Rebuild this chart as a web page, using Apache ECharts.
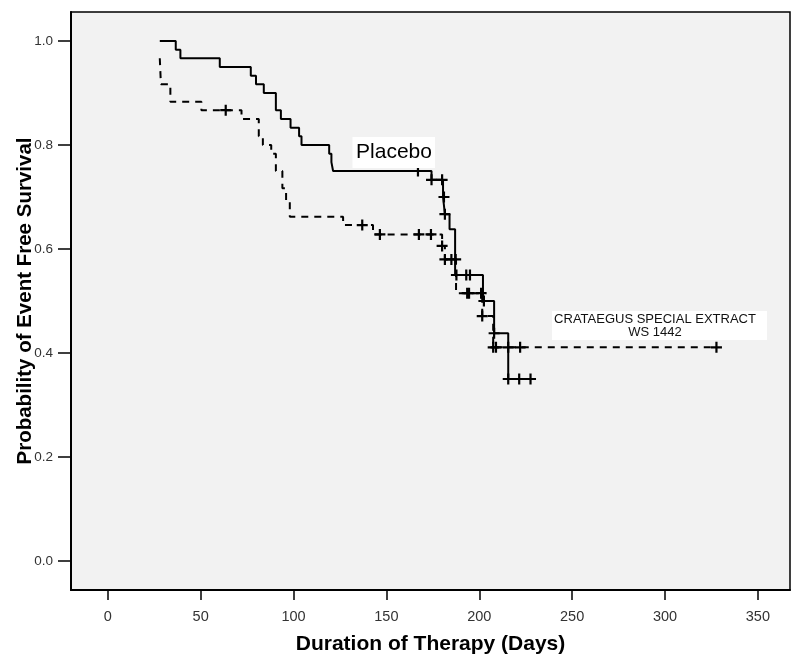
<!DOCTYPE html>
<html>
<head>
<meta charset="utf-8">
<script src="https://cdn.jsdelivr.net/npm/echarts@6/dist/echarts.min.js"></script>
<style>
html,body{margin:0;padding:0;background:#fff;}
#c{width:800px;height:665px;}
</style>
</head>
<body>
<div id="c"></div>
<script>
// Kaplan-Meier step points (time in days, survival probability)
const placeboTimes = [28, 36.6, 39.1, 60.3, 77.0, 79.8, 84, 90.5, 93.2, 98.4, 103, 104.3, 119.2, 120.4, 121.3, 174.3, 180.5, 181.5, 184, 187, 202, 208, 215.6, 227.6];
const placeboSurv  = [1.0, 0.983, 0.967, 0.950, 0.933, 0.917, 0.900, 0.867, 0.850, 0.833, 0.817, 0.800, 0.783, 0.767, 0.750, 0.733, 0.700, 0.667, 0.638, 0.550, 0.500, 0.438, 0.350, 0.350];

const crataegusTimes = [28, 28.6, 33.7, 50.4, 72, 81.3, 83.5, 88, 90.5, 94, 96, 98, 126.7, 142.8, 180, 181.5, 187.5, 201.6, 207.5, 327.7];
const crataegusSurv  = [0.967, 0.917, 0.883, 0.867, 0.850, 0.817, 0.800, 0.783, 0.750, 0.717, 0.694, 0.662, 0.646, 0.628, 0.606, 0.580, 0.515, 0.471, 0.411, 0.411];

// Censored observations
const placeboCensorTimes = [167, 174.3, 180, 181, 181.5, 187.7, 193, 195, 202.5, 208, 215.6, 221.5, 227.6];
const placeboCensorSurv  = [0.750, 0.733, 0.733, 0.700, 0.667, 0.550, 0.550, 0.550, 0.500, 0.438, 0.350, 0.350, 0.350];

const crataegusCensorTimes = [63.5, 137, 146.5, 167.5, 174, 180, 181.5, 185, 187.3, 193.5, 194.5, 201, 201.6, 207.5, 209, 215.6, 222, 327.7];
const crataegusCensorSurv  = [0.867, 0.646, 0.628, 0.628, 0.628, 0.606, 0.580, 0.580, 0.580, 0.515, 0.515, 0.515, 0.471, 0.411, 0.411, 0.411, 0.411, 0.411];

const xTicks = [0, 50, 100, 150, 200, 250, 300, 350];
const yTicks = [0, 0.2, 0.4, 0.6, 0.8, 1.0];

const zip = (a, b) => a.map((v, i) => [v, b[i]]);
const FONT = "'Liberation Sans', Arial, sans-serif";
const plus = 'path://M4,0 h2 v10 h-2 z M0,4 h10 v2 h-10 z';

const chart = echarts.init(document.getElementById('c'), null, {renderer: 'canvas'});
chart.setOption({
  animation: false,
  backgroundColor: '#ffffff',
  grid: {
    left: 71, top: 12, right: 10, bottom: 75,
    containLabel: false, outerBoundsMode: 'none',
    show: true, backgroundColor: '#f2f2f2', borderColor: '#000', borderWidth: 1.5
  },
  xAxis: {
    type: 'value', min: -19.8, max: 367.3,
    name: 'Duration of Therapy (Days)', nameLocation: 'middle', nameGap: 44, nameMoveOverlap: false,
    nameTextStyle: {fontFamily: FONT, fontSize: 21, fontWeight: 'bold', color: '#000'},
    axisLine: {show: true, onZero: false, lineStyle: {color: '#000', width: 2}},
    axisTick: {show: true, length: 10, lineStyle: {color: '#000', width: 1.5}, customValues: xTicks},
    axisLabel: {fontFamily: FONT, fontSize: 14.5, color: '#333', margin: 19, customValues: xTicks,
      formatter: v => String(v)},
    splitLine: {show: false}
  },
  yAxis: {
    type: 'value', min: -0.0558, max: 1.0558,
    name: 'Probability of Event Free Survival', nameLocation: 'middle', nameGap: 35.5, nameRotate: 90,
    nameMoveOverlap: false,
    nameTextStyle: {fontFamily: FONT, fontSize: 20.5, fontWeight: 'bold', color: '#000'},
    axisLine: {show: true, onZero: false, lineStyle: {color: '#000', width: 2}},
    axisTick: {show: true, length: 13, lineStyle: {color: '#000', width: 1.5}, customValues: yTicks},
    axisLabel: {fontFamily: FONT, fontSize: 13.5, color: '#333', margin: 18, customValues: yTicks,
      formatter: v => v.toFixed(1)},
    splitLine: {show: false}
  },
  series: [
    {
      name: 'Placebo', type: 'line', step: 'end', symbol: 'none',
      data: zip(placeboTimes, placeboSurv),
      lineStyle: {color: '#000', width: 2}, z: 3
    },
    {
      name: 'Crataegus', type: 'line', step: 'end', symbol: 'none',
      data: zip(crataegusTimes, crataegusSurv),
      lineStyle: {color: '#000', width: 2, type: [7, 6]}, z: 3
    },
    {
      type: 'scatter', symbol: plus, symbolSize: 11,
      data: zip(placeboCensorTimes, placeboCensorSurv),
      itemStyle: {color: '#000', opacity: 1}, z: 4
    },
    {
      type: 'scatter', symbol: plus, symbolSize: 11,
      data: zip(crataegusCensorTimes, crataegusCensorSurv),
      itemStyle: {color: '#000', opacity: 1}, z: 4
    }
  ],
  graphic: [
    {type: 'rect', shape: {x: 352.5, y: 137, width: 82.5, height: 31}, style: {fill: '#fff'}, z: 10},
    {type: 'text', x: 394, y: 152.5, z: 11,
      style: {text: 'Placebo', font: '21px ' + FONT, fill: '#000', align: 'center', verticalAlign: 'middle'}},
    {type: 'rect', shape: {x: 552, y: 311, width: 215, height: 29}, style: {fill: '#fff'}, z: 10},
    {type: 'text', x: 655, y: 319.5, z: 11,
      style: {text: 'CRATAEGUS SPECIAL EXTRACT', font: '13px ' + FONT, fill: '#111', align: 'center', verticalAlign: 'middle'}},
    {type: 'text', x: 655, y: 332, z: 11,
      style: {text: 'WS 1442', font: '13px ' + FONT, fill: '#111', align: 'center', verticalAlign: 'middle'}}
  ]
});
</script>
</body>
</html>
